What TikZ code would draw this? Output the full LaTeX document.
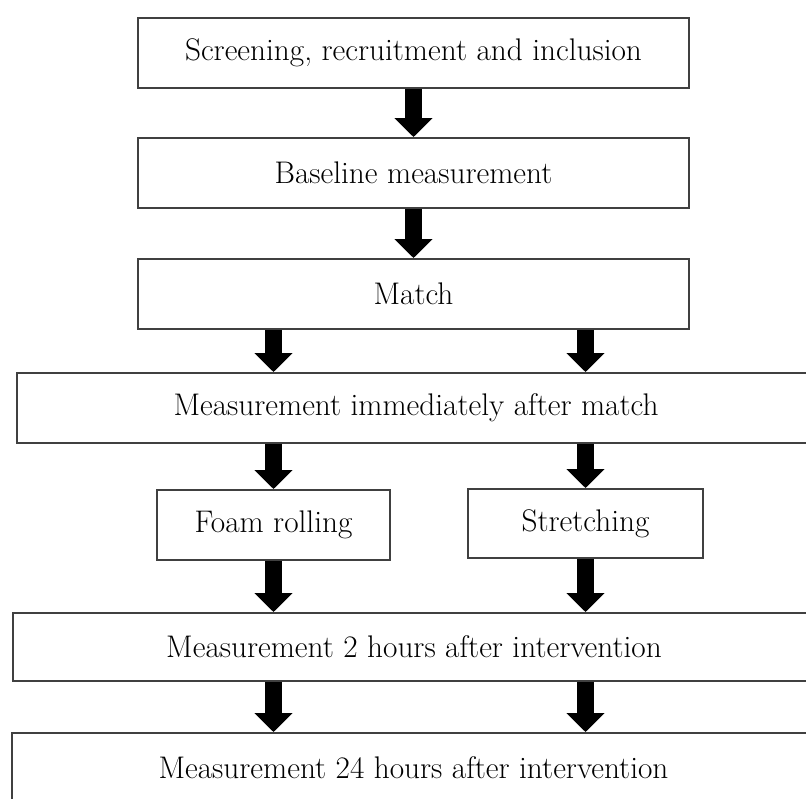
\documentclass[tikz,border=0pt]{standalone}
\usetikzlibrary{arrows.meta}

\tikzset{
  stage/.style={draw=black!75, line width=1.1pt, fill=white, inner sep=0pt,
    minimum height=1.4cm, font=\fontsize{17.8}{21}\selectfont},
  downarrow/.style={line width=0.34cm, -{Triangle[width=0.74cm,length=0.38cm]}}
}

\begin{document}
\begin{tikzpicture}[x=0.02cm,y=-0.02cm]
\clip (0,0) rectangle (806,799);
\fill[white] (0,0) rectangle (806,799);

% single column
\node[stage, minimum width=11.02cm] (screen) at (413.5,53) {Screening, recruitment and inclusion};
\node[stage, minimum width=11.02cm] (baseline) at (413.5,173) {Baseline measurement};
\node[stage, minimum width=11.02cm] (match) at (413.5,294) {Match};

% full width rows (run past the right edge)
\node[stage, minimum width=15.96cm] (immed) at (416,408) {Measurement immediately after match};
\node[stage, minimum width=16.04cm, minimum height=1.36cm] (post2) at (414,647) {Measurement 2 hours after intervention};
\node[stage, minimum width=16.06cm] (post24) at (413.5,768) {Measurement 24 hours after intervention};

% the two interventions
\node[stage, minimum width=4.66cm] (foam) at (273.5,525) {Foam rolling};
\node[stage, minimum width=4.7cm, minimum height=1.38cm] (stretch) at (585.5,523.5) {Stretching};

\draw[downarrow] (screen) -- (baseline);
\draw[downarrow] (baseline) -- (match);
\begin{scope}[downarrow]
\draw (foam |- match.south) -- (foam |- immed.north);
\draw (stretch |- match.south) -- (stretch |- immed.north);
\draw (foam |- immed.south) -- (foam);
\draw (stretch |- immed.south) -- (stretch);
\draw (foam) -- (foam |- post2.north);
\draw (stretch) -- (stretch |- post2.north);
\draw (foam |- post2.south) -- (foam |- post24.north);
\draw (stretch |- post2.south) -- (stretch |- post24.north);
\end{scope}
\end{tikzpicture}
\end{document}
